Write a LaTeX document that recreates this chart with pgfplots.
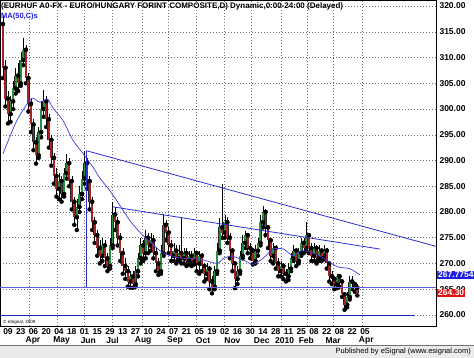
\documentclass[border=0pt]{standalone}
\usepackage{pgfplots}
\pgfplotsset{compat=1.18}
\usepackage{pgfplotstable}
\usepackage{fontspec}
\setmainfont{Liberation Sans}
\definecolor{cred}{RGB}{165,35,35}
\definecolor{cgreen}{RGB}{40,145,60}
\definecolor{tl}{RGB}{45,45,215}
\definecolor{ma}{RGB}{60,60,225}
\definecolor{hl}{RGB}{95,95,225}
\definecolor{lbl}{RGB}{30,30,225}
\definecolor{lbr}{RGB}{225,20,20}
\definecolor{gridc}{RGB}{110,110,110}

\pgfplotstableread{
d o h l c
-4 316.5 318.0 306.0 308.0
-2 308.0 309.5 300.5 302.0
0 302.0 303.5 297.2 299.0
2 299.0 302.5 297.5 301.5
4 301.5 305.5 300.0 304.0
6 304.0 308.0 303.0 306.5
8 306.5 309.0 303.5 305.0
10 305.0 311.0 304.5 309.5
12 309.5 313.8 308.5 311.5
14 311.5 312.5 305.0 306.0
16 306.0 307.0 299.5 301.0
18 301.0 302.0 295.5 297.0
20 297.0 298.0 292.0 293.5
22 293.5 294.5 289.4 291.0
24 291.0 296.5 290.5 295.5
26 295.5 301.5 294.5 300.0
28 300.0 303.6 298.5 301.5
30 301.5 302.5 296.5 298.0
32 298.0 299.0 292.5 294.0
34 294.0 295.0 289.0 290.5
36 290.5 291.5 285.5 287.0
38 287.0 288.5 283.0 284.5
40 284.5 287.5 282.5 286.0
42 286.0 287.0 282.0 283.5
44 283.5 288.5 283.0 287.5
46 287.5 291.3 286.5 289.5
48 289.5 290.5 285.0 286.0
50 286.0 287.0 280.5 282.0
52 282.0 283.0 277.5 279.0
54 279.0 282.5 276.5 281.0
56 281.0 285.0 280.0 283.5
58 283.5 288.0 282.5 286.5
60 286.5 291.9 285.5 289.5
62 289.5 290.5 284.5 286.0
64 286.0 287.0 280.5 282.0
66 282.0 283.0 276.5 278.0
68 278.0 279.0 274.0 275.5
70 275.5 276.5 271.5 273.0
72 273.0 274.5 270.0 271.5
74 271.5 275.0 270.5 273.5
76 273.5 274.5 269.5 271.0
78 271.0 272.0 268.5 269.5
80 269.5 275.0 269.0 273.5
82 273.5 282.0 273.0 279.5
84 279.5 281.0 276.5 278.0
86 278.0 279.0 273.5 275.0
88 275.0 276.0 270.5 272.0
90 272.0 273.0 268.0 269.5
92 269.5 271.0 267.0 268.5
94 268.5 269.5 265.5 266.5
96 266.5 268.5 265.3 267.5
98 267.5 268.5 265.3 266.0
100 266.0 269.5 265.5 268.5
102 268.5 272.0 267.5 271.0
104 271.0 275.0 270.0 273.5
106 273.5 274.5 270.5 272.0
108 272.0 276.5 271.0 275.0
110 275.0 276.0 272.0 273.5
112 273.5 276.0 272.5 274.5
114 274.5 275.5 271.0 272.0
116 272.0 273.0 268.5 270.0
118 270.0 271.0 267.8 268.5
120 268.5 273.5 268.0 272.0
122 272.0 279.6 271.5 277.5
124 277.5 278.5 274.5 276.0
126 276.0 277.0 272.0 273.5
128 273.5 274.5 270.5 271.5
130 271.5 274.0 270.5 272.5
132 272.5 273.5 270.0 271.0
134 271.0 273.5 270.5 272.0
136 272.0 278.8 270.0 271.0
138 271.0 273.0 270.0 272.0
140 272.0 273.0 269.5 270.5
142 270.5 272.5 269.8 271.5
144 271.5 272.5 269.5 270.5
146 270.5 273.0 269.8 272.0
148 272.0 272.5 268.5 270.0
150 270.0 272.5 268.0 271.5
152 271.5 272.0 268.5 269.5
154 269.5 270.0 266.5 268.0
156 268.0 270.0 267.0 269.0
158 269.0 269.5 265.0 266.5
160 266.5 267.5 264.2 265.5
162 265.5 269.5 265.0 268.5
164 268.5 274.0 268.0 272.5
166 272.5 278.8 272.0 277.0
168 277.0 285.5 275.0 276.0
170 276.0 279.5 275.0 278.0
172 278.0 279.0 274.0 275.0
174 275.0 276.0 271.0 272.5
176 272.5 273.0 268.5 270.0
178 270.0 270.5 265.2 267.0
180 267.0 269.5 266.0 268.5
182 268.5 272.5 268.0 271.5
184 271.5 275.5 271.0 274.0
186 274.0 276.3 273.0 275.5
188 275.5 276.0 272.0 273.0
190 273.0 274.0 271.0 272.5
192 272.5 273.0 269.8 270.5
194 270.5 273.5 270.0 272.5
196 272.5 275.0 271.5 274.0
198 274.0 279.5 273.5 278.0
200 278.0 281.2 277.0 280.0
202 280.0 280.5 275.5 277.0
204 277.0 277.5 273.0 274.5
206 274.5 275.0 270.5 271.5
208 271.5 274.0 270.0 273.0
210 273.0 273.5 269.0 270.0
212 270.0 271.0 267.5 268.5
214 268.5 270.5 267.5 269.5
216 269.5 270.0 267.0 268.0
218 268.0 269.0 266.5 267.5
220 267.5 270.0 266.8 269.0
222 269.0 272.0 268.5 271.0
224 271.0 273.5 270.5 272.5
226 272.5 273.0 269.5 270.5
228 270.5 273.0 270.0 272.0
230 272.0 275.0 271.5 274.0
232 274.0 275.0 272.0 273.0
234 273.0 278.0 272.5 275.5
236 275.5 276.0 272.0 273.0
238 273.0 274.0 270.5 271.5
240 271.5 274.0 270.5 273.0
242 273.0 273.5 270.0 271.0
244 271.0 273.5 270.5 272.5
246 272.5 273.0 270.5 271.5
248 271.5 273.5 270.8 272.5
250 272.5 273.0 269.0 270.0
252 270.0 270.5 266.5 267.5
254 267.5 268.5 266.0 267.0
256 267.0 267.5 265.0 266.0
258 266.0 268.0 265.2 267.5
260 267.5 268.0 265.5 266.5
262 266.5 267.0 263.5 264.0
264 264.0 264.5 261.0 262.0
266 262.0 264.5 261.5 263.5
268 263.5 267.5 263.0 266.5
270 266.5 267.5 265.0 266.0
272 266.0 266.5 264.5 265.3
274 265.3 266.0 263.8 264.3
}\candles

\pgfplotstableread{
d m
-4 291.3
7 297.8
17 301.7
20 302.1
25 301.3
31 301.9
35 300.3
43 297.8
51 293.9
59 291.3
67 288.6
72 286.6
80 284.1
88 281.2
96 278.2
104 275.9
111 274.3
122 272.0
137 271.0
151 270.8
164 270.0
169 271.0
176 271.4
187 270.4
192 269.8
200 271.0
208 272.8
216 272.8
224 271.4
229 272.4
235 272.4
245 271.4
258 269.4
268 269.0
276 267.8
}\matab

\begin{document}
\begin{tikzpicture}
\useasboundingbox (0,0) rectangle (474pt,358pt);
\fill[white] (0,0) rectangle (474pt,358pt);
\fill[black!8] (0,0) rectangle (474pt,12.5pt);
\draw[black!55, line width=0.8pt] (0,12.5pt) -- (474pt,12.5pt);
\node[anchor=east, inner sep=0pt, font=\fontsize{7.5}{9}\selectfont] at (471pt,6.3pt) {Published by eSignal (www.esignal.com)};
\begin{axis}[
  at={(0pt,32pt)}, anchor=south west,
  width=436pt, height=326pt, scale only axis,
  xmin=-6.27, xmax=335.7, ymin=257.86, ymax=321.17,
  clip mode=individual,
  axis line style={black, line width=0.7pt},
  major tick length=0pt,
  xtick={0,10,...,280},
  xticklabels={09,23,06,20,04,18,01,15,29,13,27,10,24,07,21,05,19,02,16,30,14,28,11,25,08,22,08,22,05},
  extra x ticks={17,39,60,82,105,126,148,170,191,214,235,255,278},
  extra x tick labels={},
  extra x tick style={grid=major},
  ytick={260,265,...,320},
  yticklabels={260.00,265.00,270.00,275.00,280.00,285.00,290.00,295.00,300.00,305.00,310.00,315.00,320.00},
  yticklabel pos=right,
  ymajorgrids,
  grid style={gridc, line width=0.5pt, dash pattern=on 0.7pt off 2.3pt},
  tick label style={font=\fontsize{8.5}{10}\selectfont\bfseries},
  xticklabel style={yshift=1pt},
]
% wicks
\addplot[only marks, mark=none, forget plot,
  error bars/.cd, y dir=both, y explicit, error mark=none,
  error bar style={draw=black, line width=0.45pt}]
  table[x=d, y=l, y error plus expr=\thisrow{h}-\thisrow{l}, y error minus expr=0] {\candles};
% body outlines
\addplot[only marks, mark=none, forget plot,
  error bars/.cd, y dir=both, y explicit, error mark=none,
  error bar style={draw=black!85, line width=2.6pt}]
  table[x=d, y=o, y error plus expr={max(\thisrow{c}-\thisrow{o},0)}, y error minus expr={max(\thisrow{o}-\thisrow{c},0)}] {\candles};
% up bodies
\addplot[only marks, mark=none, forget plot,
  restrict expr to domain={\thisrow{c}-\thisrow{o}}{0:1000},
  error bars/.cd, y dir=both, y explicit, error mark=none,
  error bar style={draw=cgreen, line width=1.9pt}]
  table[x=d, y=o, y error plus expr={\thisrow{c}-\thisrow{o}}, y error minus expr=0] {\candles};
% down bodies
\addplot[only marks, mark=none, forget plot,
  restrict expr to domain={\thisrow{o}-\thisrow{c}}{0.0001:1000},
  error bars/.cd, y dir=both, y explicit, error mark=none,
  error bar style={draw=cred, line width=1.9pt}]
  table[x=d, y=o, y error plus expr=0, y error minus expr={\thisrow{o}-\thisrow{c}}] {\candles};
% moving average
\addplot[ma, line width=0.7pt, smooth, tension=0.4, mark=none] table[x=d, y=m] {\matab};
% trend lines
\addplot[tl, line width=0.8pt, mark=none] coordinates {(61.5,291.9) (336,273.3)};
\addplot[tl, line width=0.8pt, mark=none] coordinates {(82.4,281.0) (291.8,272.8)};
\addplot[tl, line width=1.1pt, mark=none] coordinates {(61.5,291.9) (61.5,265.3)};
\addplot[hl, line width=0.9pt, mark=none] coordinates {(-6.27,265.3) (335.7,265.3)};
\addplot[tl!80!black, line width=0.9pt, mark=none] coordinates {(-6.27,260.0) (319,260.0)};
% texts
\node[anchor=north west, inner sep=1pt, font=\fontsize{8}{9}\selectfont\bfseries] at (rel axis cs:0,1) [yshift=-1.5pt] {(EURHUF A0-FX - EURO/HUNGARY FORINT COMPOSITE,D) Dynamic,0:00-24:00 (Delayed)};
\node[anchor=north west, inner sep=1pt, text=lbl, font=\fontsize{7.5}{9}\selectfont\bfseries] at (rel axis cs:0,1) [yshift=-11.5pt] {MA(50,C)s};
\node[anchor=south west, inner sep=1pt, font=\fontsize{4.5}{5}\selectfont] at (rel axis cs:0,0) [xshift=2pt, yshift=0.5pt] {\textcopyright\ eSignal, 2009};
\node[anchor=west, fill=lbl, text=white, inner sep=1pt, font=\fontsize{8.5}{10}\selectfont\bfseries] at (axis cs:335.7,267.7754) [xshift=1pt] {267.7754};
\node[anchor=west, fill=lbr, text=white, inner sep=1pt, font=\fontsize{8.5}{10}\selectfont\bfseries] at (axis cs:335.7,264.30) [xshift=1pt] {264.30};
% month labels
\node[font=\fontsize{8.5}{10}\selectfont\bfseries, yshift=-14.5pt] at (axis cs:19.6,257.86) {Apr};
\node[font=\fontsize{8.5}{10}\selectfont\bfseries, yshift=-14.5pt] at (axis cs:42,257.86) {May};
\node[font=\fontsize{8.5}{10}\selectfont\bfseries, yshift=-14.5pt] at (axis cs:63,257.86) {Jun};
\node[font=\fontsize{8.5}{10}\selectfont\bfseries, yshift=-14.5pt] at (axis cs:82,257.86) {Jul};
\node[font=\fontsize{8.5}{10}\selectfont\bfseries, yshift=-14.5pt] at (axis cs:106,257.86) {Aug};
\node[font=\fontsize{8.5}{10}\selectfont\bfseries, yshift=-14.5pt] at (axis cs:131,257.86) {Sep};
\node[font=\fontsize{8.5}{10}\selectfont\bfseries, yshift=-14.5pt] at (axis cs:153,257.86) {Oct};
\node[font=\fontsize{8.5}{10}\selectfont\bfseries, yshift=-14.5pt] at (axis cs:176,257.86) {Nov};
\node[font=\fontsize{8.5}{10}\selectfont\bfseries, yshift=-14.5pt] at (axis cs:199,257.86) {Dec};
\node[font=\fontsize{8.5}{10}\selectfont\bfseries, yshift=-14.5pt] at (axis cs:217,257.86) {2010};
\node[font=\fontsize{8.5}{10}\selectfont\bfseries, yshift=-14.5pt] at (axis cs:234,257.86) {Feb};
\node[font=\fontsize{8.5}{10}\selectfont\bfseries, yshift=-14.5pt] at (axis cs:255,257.86) {Mar};
\node[font=\fontsize{8.5}{10}\selectfont\bfseries, yshift=-14.5pt] at (axis cs:281,257.86) {Apr};
\end{axis}
\end{tikzpicture}
\end{document}
